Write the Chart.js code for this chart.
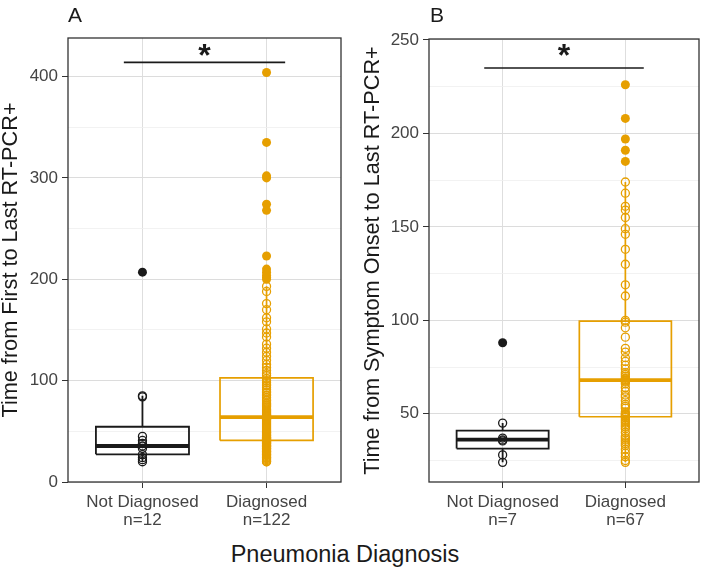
<!DOCTYPE html>
<html>
<head>
<meta charset="utf-8">
<script src="https://cdn.jsdelivr.net/npm/chart.js@4.4.1/dist/chart.umd.min.js"></script>
<style>
  html, body { margin: 0; padding: 0; background: #fff; }
  #wrap { position: relative; width: 709px; height: 573px; overflow: hidden; font-family: "Liberation Sans", Arial, sans-serif; color: #1a1a1a; }
  canvas { position: absolute; top: 0; }
  .lbl { position: absolute; line-height: 1; white-space: nowrap; }
</style>
</head>
<body>
<div id="wrap">
  <canvas id="chartA" width="355" height="530" style="left:0"></canvas>
  <canvas id="chartB" width="355" height="530" style="left:354px"></canvas>
  <div class="lbl" style="left:68px; top:4px; font-size:21px;">A</div>
  <div class="lbl" style="left:430px; top:4px; font-size:21px;">B</div>
  <div class="lbl" style="left:145px; top:543px; width:400px; text-align:center; font-size:23.5px;">Pneumonia Diagnosis</div>
</div>
<script>
const categories = ["Not Diagnosed", "Diagnosed"];
const countsA = [12, 122];
const countsB = [7, 67];

// panel A: time from first to last RT-PCR+
const notDxA = [207, 85, 84, 45, 41, 38, 35.5, 33, 27, 24, 22, 20];
const dxA = [
  404, 335, 302, 300, 274, 268, 223, 210, 207, 204, 202, 200,
  193, 188, 176, 170, 162, 158, 151, 147, 143, 136, 132, 128, 124, 120, 116, 113, 110, 107, 105,
  102, 100, 98, 96, 95, 93, 91, 89, 88, 86, 85, 83, 81, 80, 78, 77, 76, 75, 74, 72, 71, 70, 69, 68, 67, 66, 66, 65, 65, 64,
  63, 62, 62, 61, 60, 59, 58, 57, 56, 55, 54, 53, 52, 51, 50, 49, 49, 48, 47, 46, 46, 45, 44, 44, 43, 43, 42, 42, 41, 41,
  40, 40, 39, 39, 38, 38, 37, 36, 36, 35, 35, 34, 33, 33, 32, 31, 30, 30, 29, 28, 27, 27, 26, 25, 24, 24, 23, 22, 21, 20, 20
];
// box stats: [lower whisker, q1, median, q3, upper whisker]
const boxNotDxA = [20, 27.3, 35.5, 54.5, 85];
const boxDxA = [20, 41, 64, 102.8, 193];
const yTicksA = [0, 100, 200, 300, 400];
const sigA = [414, 426.6]; // bar y, star y

// panel B: time from symptom onset to last RT-PCR+
const notDxB = [88, 45, 37, 36, 35.5, 28, 24];
const dxB = [
  226, 208, 197, 191, 185,
  174, 168, 161, 159, 155, 149, 146, 138, 130, 119, 113,
  100, 99, 96, 91, 85, 83, 80, 78, 76, 74, 72, 71, 70, 69, 68.5, 68, 67.5, 67,
  66, 64, 62, 60, 59, 57, 55, 54, 53, 51, 50, 49.5, 49, 48.5, 48, 47, 46, 45, 44, 43, 42, 40, 38, 37, 36, 35, 34, 33, 31, 29, 27, 25, 24
];
const boxNotDxB = [24, 31.4, 36.2, 41, 45];
const boxDxB = [24, 48.4, 68, 99.6, 174];
const yTicksB = [50, 100, 150, 200, 250];
const sigB = [235, 244.5];

const ORANGE = "#E69F00";
const DARK = "#1a1a1a";
const FONT = "Liberation Sans";
const HALF = 0.375;

function boxDatasets(stats, xi, color, lw) {
  const [lo, q1, med, q3, hi] = stats;
  return [
    { data: [{x: xi - HALF, y: med}, {x: xi + HALF, y: med}], borderColor: color, borderWidth: lw * 2.1 },
    { data: [{x: xi - HALF, y: q1}, {x: xi + HALF, y: q1}, {x: xi + HALF, y: q3}, {x: xi - HALF, y: q3}, {x: xi - HALF, y: q1}],
      borderColor: color, borderWidth: lw },
    { data: [{x: xi, y: lo}, {x: xi, y: q1}, {x: xi, y: null}, {x: xi, y: q3}, {x: xi, y: hi}], borderColor: color, borderWidth: lw }
  ].map(d => Object.assign(d, { showLine: true, pointRadius: 0, fill: false, spanGaps: false }));
}

function pointDatasets(values, stats, xi, color) {
  const out = values.filter(v => v > stats[4] || v < stats[0]);
  const inside = values.filter(v => v <= stats[4] && v >= stats[0]);
  return [
    { data: out.map(v => ({x: xi, y: v})), pointRadius: 4.5, pointBackgroundColor: color, pointBorderColor: color, pointBorderWidth: 0, showLine: false },
    { data: inside.map(v => ({x: xi, y: v})), pointRadius: 4, pointBackgroundColor: "rgba(0,0,0,0)", pointBorderColor: color, pointBorderWidth: 1.3, showLine: false }
  ];
}

const panelPlugin = {
  id: "panel",
  afterDatasetsDraw(chart, args, opts) {
    const {ctx, chartArea: a, scales} = chart;
    ctx.save();
    ctx.strokeStyle = "#333";
    ctx.lineWidth = 1.3;
    ctx.strokeRect(a.left, a.top, a.right - a.left, a.bottom - a.top);
    // significance star
    ctx.fillStyle = DARK;
    ctx.font = "bold 32px " + FONT;
    ctx.textAlign = "center";
    ctx.textBaseline = "alphabetic";
    const m = ctx.measureText("*");
    const px = scales.x.getPixelForValue(0.5);
    const py = scales.y.getPixelForValue(opts.starY);
    ctx.fillText("*", px, py + (m.actualBoundingBoxAscent - m.actualBoundingBoxDescent) / 2);
    ctx.restore();
  }
};

function makeChart(id, cfg) {
  const majors = cfg.majors;
  const isMajor = v => majors.includes(v);
  const datasets = [].concat(
    boxDatasets(cfg.boxes[0], 0, DARK, 1.8),
    boxDatasets(cfg.boxes[1], 1, ORANGE, 1.7),
    [{ data: [{x: -0.15, y: cfg.sig[0]}, {x: 1.15, y: cfg.sig[0]}], showLine: true, pointRadius: 0, borderColor: DARK, borderWidth: 1.6 }],
    pointDatasets(cfg.points[0], cfg.boxes[0], 0, DARK),
    pointDatasets(cfg.points[1], cfg.boxes[1], 1, ORANGE)
  );
  return new Chart(document.getElementById(id), {
    type: "scatter",
    data: { datasets },
    plugins: [panelPlugin],
    options: {
      responsive: false,
      animation: false,
      events: [],
      layout: { padding: { top: cfg.top, right: cfg.right, left: 0, bottom: 0 } },
      elements: { line: { tension: 0 }, point: { hoverRadius: 0 } },
      plugins: { legend: { display: false }, tooltip: { enabled: false }, panel: { starY: cfg.sig[1] } },
      scales: {
        x: {
          type: "linear", min: -0.6, max: 1.6,
          afterBuildTicks: s => { s.ticks = [{value: 0}, {value: 1}]; },
          afterFit: s => { s.height = 48; },
          border: { display: false },
          grid: { color: "#dedede", lineWidth: 1, tickColor: "#333", tickLength: 6 },
          ticks: {
            autoSkip: false, maxRotation: 0, padding: 5, color: "#444",
            font: { family: FONT, size: 17, lineHeight: 1.08 },
            callback: v => [categories[v], "n=" + cfg.counts[v]]
          }
        },
        y: {
          min: cfg.ymin, max: cfg.ymax,
          afterFit: s => { s.width = cfg.yWidth; },
          border: { display: false },
          grid: {
            color: c => isMajor(c.tick.value) ? "#dcdcdc" : "#efefef",
            lineWidth: c => isMajor(c.tick.value) ? 1 : 0.8,
            tickColor: c => isMajor(c.tick.value) ? "#333" : "rgba(0,0,0,0)",
            tickLength: 6
          },
          ticks: {
            stepSize: cfg.step, includeBounds: false, padding: 4, color: "#444",
            font: { family: FONT, size: 17 },
            callback: v => isMajor(v) ? String(v) : ""
          },
          title: {
            display: true, text: cfg.title, color: DARK,
            font: { family: FONT, size: 21.7, lineHeight: 1 },
            padding: { top: cfg.titlePad, bottom: 0 }
          }
        }
      }
    }
  });
}

makeChart("chartA", {
  boxes: [boxNotDxA, boxDxA], points: [notDxA, dxA], counts: countsA, sig: sigA,
  majors: yTicksA, step: 50, ymin: 0, ymax: 438,
  top: 38, right: 14, yWidth: 68, titlePad: 0,
  title: "Time from First to Last RT-PCR+"
});
makeChart("chartB", {
  boxes: [boxNotDxB, boxDxB], points: [notDxB, dxB], counts: countsB, sig: sigB,
  majors: yTicksB, step: 25, ymin: 13.5, ymax: 250.5,
  top: 39, right: 10, yWidth: 75, titlePad: 8.5,
  title: "Time from Symptom Onset to Last RT-PCR+"
});
</script>
</body>
</html>
